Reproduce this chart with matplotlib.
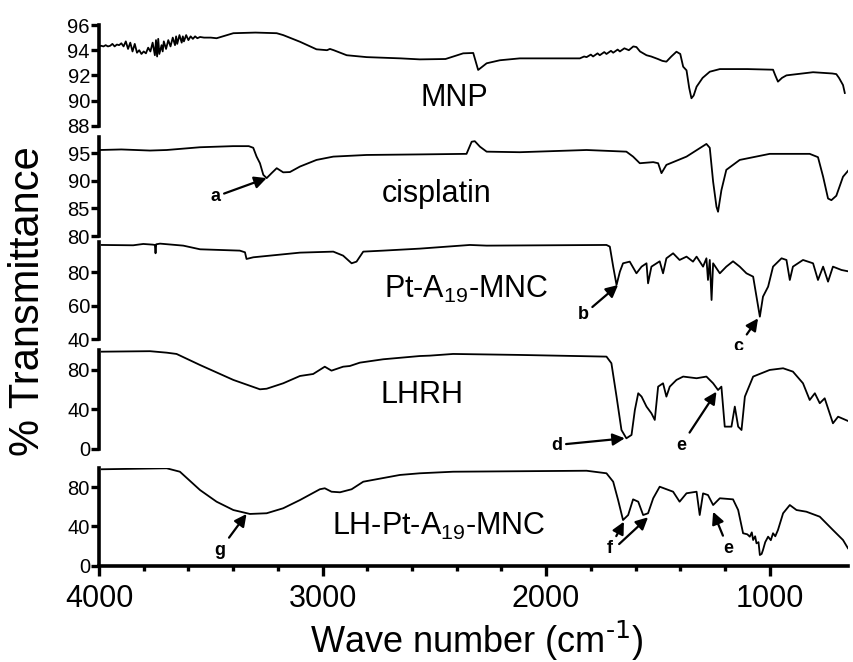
import matplotlib
matplotlib.use("Agg")
import matplotlib.pyplot as plt

plt.rcParams['font.family'] = ['Liberation Sans', 'DejaVu Sans']
plt.rcParams['mathtext.default'] = 'regular'

# ---- spectra (wave number in cm-1, % transmittance) ----
wn_mnp = [3996, 3990, 3980, 3970, 3960, 3950, 3940, 3930, 3920, 3910, 3900, 3890, 3880, 3870,
          3860, 3850, 3840, 3830, 3820, 3810, 3800, 3790, 3780, 3770, 3760, 3750, 3745, 3740,
          3735, 3730, 3720, 3715, 3710, 3700, 3690, 3680, 3670, 3660, 3655, 3650, 3640, 3630,
          3625, 3620, 3610, 3600, 3590, 3580, 3570, 3560, 3548, 3530, 3500, 3474, 3399, 3300,
          3205, 3176, 3101, 3027, 2980, 2967, 2950, 2892, 2803, 2650, 2565, 2450, 2371, 2326,
          2304, 2266, 2207, 2118, 1980, 1849, 1830, 1819, 1800, 1790, 1770, 1760, 1740, 1730,
          1710, 1700, 1680, 1670, 1650, 1630, 1610, 1596, 1580, 1551, 1530, 1500, 1480, 1462,
          1440, 1417, 1400, 1387, 1372, 1360, 1350, 1340, 1327, 1300, 1268, 1223, 1100, 985,
          975, 963, 945, 925, 806, 720, 702, 690, 672, 664]
t_mnp = [94.33, 94.35, 94.3, 94.4, 94.3, 94.35, 94.5, 94.3, 94.45, 94.4, 94.55, 94.3, 94.7, 94.1,
         94.6, 93.9, 94.5, 93.8, 94.0, 93.7, 93.9, 93.75, 94.2, 93.9, 94.6, 93.6, 94.8, 93.5,
         94.9, 93.7, 94.4, 93.9, 94.7, 94.1, 94.8, 94.3, 95.0, 94.4, 95.1, 94.5, 95.2, 94.6,
         95.1, 94.7, 95.2, 94.8, 95.1, 94.9, 95.1, 94.95, 95.05, 95.0, 95.0, 94.95, 95.35, 95.4,
         95.35, 95.2, 94.67, 94.07, 94.0, 94.1, 94.0, 93.6, 93.45, 93.35, 93.27, 93.3, 93.75, 93.78,
         92.43, 92.96, 93.2, 93.35, 93.35, 93.35, 93.5, 93.45, 93.65, 93.5, 93.75, 93.6, 93.85, 93.7,
         93.95, 93.8, 94.05, 93.9, 94.15, 94.0, 94.3, 94.25, 93.9, 93.6, 93.5, 93.3, 93.15, 93.09,
         93.5, 93.88, 93.7, 92.69, 92.4, 91.0, 90.18, 90.4, 91.1, 91.8, 92.29, 92.5, 92.5, 92.45,
         92.0, 91.5, 91.8, 92.0, 92.25, 92.15, 92.1, 91.8, 91.23, 90.6]

wn_cis = [3996, 3900, 3772, 3697, 3548, 3400, 3330, 3310, 3295, 3280, 3265, 3250, 3228, 3205,
          3176, 3146, 3101, 3027, 2952, 2803, 2565, 2356, 2333, 2319, 2296, 2266, 2118, 1819,
          1641, 1611, 1581, 1521, 1499, 1484, 1462, 1372, 1283, 1268, 1253, 1238, 1231, 1216,
          1194, 1134, 1000, 821, 784, 761, 739, 724, 702, 672, 627]
t_cis = [95.6, 95.7, 95.5, 95.6, 96.1, 96.3, 96.3, 96.0, 94.4, 93.2, 91.1, 90.5, 91.4, 92.3,
         91.55, 91.6, 92.6, 93.8, 94.4, 94.7, 94.8, 94.9, 97.1, 97.2, 96.2, 95.3, 95.2, 95.6,
         95.3, 94.4, 93.2, 93.4, 93.2, 91.4, 92.9, 94.4, 96.7, 96.0, 89.85, 85.3, 84.4, 88.3,
         92.0, 93.8, 94.9, 94.9, 94.3, 90.75, 86.8, 86.5, 87.3, 90.75, 92.9]

wn_pt = [3988, 3847, 3802, 3760, 3750, 3747, 3744, 3727, 3623, 3548, 3370, 3347, 3340, 3310,
         3101, 2952, 2908, 2870, 2848, 2818, 2729, 2565, 2341, 2266, 1730, 1715, 1700, 1685,
         1670, 1656, 1626, 1596, 1573, 1551, 1544, 1529, 1492, 1477, 1462, 1432, 1403, 1372,
         1343, 1327, 1298, 1283, 1276, 1268, 1260, 1253, 1223, 1194, 1164, 1134, 1104, 1074,
         1059, 1044, 1030, 1007, 985, 947, 925, 910, 896, 851, 806, 784, 761, 739,
         717, 679, 642]
t_pt = [96.4, 96.2, 97.0, 96.6, 96.4, 91.4, 96.8, 97.2, 96.0, 93.8, 93.0, 92.0, 88.0, 89.0,
        91.8, 92.4, 90.0, 85.4, 86.4, 92.4, 93.0, 94.2, 96.4, 96.0, 96.4, 95.4, 83.4, 72.4,
        80.4, 85.4, 86.4, 79.4, 83.4, 85.4, 73.4, 83.4, 86.6, 79.4, 88.4, 91.4, 87.4, 89.4,
        86.4, 89.4, 83.4, 88.4, 75.4, 87.4, 63.4, 85.4, 79.4, 83.4, 86.6, 83.4, 79.4, 77.4,
        65.4, 53.4, 65.4, 71.4, 83.4, 88.4, 87.4, 75.4, 83.4, 87.4, 85.4, 75.4, 83.4, 74.4,
        83.4, 81.4, 80.4]

wn_lhrh = [3988, 3772, 3697, 3653, 3548, 3399, 3280, 3250, 3176, 3101, 3042, 2990, 2960, 2908,
           2878, 2833, 2729, 2565, 2520, 2416, 2118, 1730, 1708, 1685, 1663, 1641, 1618, 1603,
           1588, 1573, 1551, 1529, 1514, 1499, 1477, 1462, 1447, 1417, 1387, 1327, 1283, 1253,
           1231, 1216, 1201, 1171, 1156, 1141, 1126, 1111, 1074, 1000, 940, 896, 851, 821,
           798, 776, 754, 717, 694, 642]
t_lhrh = [98.5, 99.0, 97.5, 96.2, 85.0, 69.9, 60.4, 61.0, 66.5, 73.9, 75.9, 83.3, 79.3, 83.3,
          84.0, 87.4, 90.8, 94.1, 94.5, 96.2, 95.2, 93.5, 86.8, 53.0, 19.2, 10.8, 14.2, 39.5,
          56.4, 53.0, 42.9, 36.1, 29.4, 63.1, 66.5, 53.0, 63.1, 69.9, 73.3, 71.6, 73.3, 66.5,
          59.7, 63.1, 22.6, 22.6, 42.9, 22.6, 19.2, 53.0, 73.3, 80.0, 81.7, 78.3, 66.5, 49.6,
          56.4, 46.3, 51.3, 26.0, 32.7, 27.6]

wn_lhpt = [3988, 3697, 3638, 3548, 3474, 3399, 3325, 3250, 3176, 3101, 3012, 2990, 2960, 2922,
           2870, 2818, 2654, 2565, 2416, 1819, 1730, 1700, 1678, 1656, 1633, 1611, 1588, 1566,
           1544, 1521, 1492, 1432, 1403, 1372, 1327, 1313, 1298, 1276, 1253, 1223, 1164, 1141,
           1119, 1100, 1089, 1080, 1074, 1065, 1059, 1050, 1044, 1036, 1030, 1020, 1007, 995,
           985, 975, 963, 940, 910, 880, 836, 776, 717, 672, 650]
t_lhpt = [98.4, 99.4, 95.9, 77.2, 65.3, 56.8, 52.8, 53.5, 58.6, 67.0, 78.0, 79.0, 75.5, 74.9,
          78.0, 85.7, 92.6, 94.3, 95.9, 96.9, 94.3, 85.7, 67.0, 46.6, 51.7, 67.7, 65.3, 51.7,
          53.5, 68.8, 80.6, 75.5, 65.3, 73.9, 75.5, 51.7, 73.8, 72.1, 61.9, 68.8, 67.7, 56.8,
          33.1, 32.0, 29.6, 34.0, 26.2, 30.0, 22.8, 24.0, 10.9, 12.0, 16.0, 24.0, 29.6, 26.0,
          33.1, 30.0, 36.4, 53.5, 61.9, 56.8, 55.1, 50.0, 36.4, 26.2, 17.8]

names = ['MNP', 'cisplatin', 'Pt-A$_{19}$-MNC', 'LHRH', 'LH-Pt-A$_{19}$-MNC']
ylims = [(88, 96), (80, 98), (40, 98), (0, 100), (0, 100)]
yticks = [[88, 90, 92, 94, 96], [80, 85, 90, 95], [40, 60, 80], [0, 40, 80], [0, 40, 80]]
# label anchor (wave number, transmittance) of each panel name
name_pos = [(2412, 89.6), (2488, 86.2), (2359, 64.6), (2553, 46.6), (2482, 31.3)]
# panel boxes in figure fractions: left, bottom, width, height
boxes = [(0.1159, 0.8101, 0.877, 0.1521),
         (0.1159, 0.6435, 0.877, 0.1499),
         (0.1159, 0.4879, 0.877, 0.1461),
         (0.1159, 0.3218, 0.877, 0.1492),
         (0.1159, 0.1455, 0.877, 0.1480)]
series = [(wn_mnp, t_mnp), (wn_cis, t_cis), (wn_pt, t_pt), (wn_lhrh, t_lhrh), (wn_lhpt, t_lhpt)]

fig = plt.figure(figsize=(8.54, 6.62), dpi=100)
axes = []
for i, (wn, t) in enumerate(series):
    ax = fig.add_axes(boxes[i])
    ax.plot(wn, t, color='k', lw=1.3)
    ax.set_xlim(4000, 650)
    ax.set_ylim(*ylims[i])
    ax.set_yticks(yticks[i])
    for s in ['top', 'right']:
        ax.spines[s].set_visible(False)
    ax.spines['left'].set_linewidth(2.6)
    ax.tick_params(axis='y', direction='out', length=5.5, width=2.4, labelsize=14.5, pad=1)
    ax.text(name_pos[i][0], name_pos[i][1], names[i], fontsize=22, ha='center', va='baseline')
    if i < 4:
        ax.spines['bottom'].set_visible(False)
        ax.set_xticks([])
    axes.append(ax)

axb = axes[-1]
axb.spines['bottom'].set_linewidth(2.6)
axb.set_xticks([4000, 3000, 2000, 1000])
axb.set_xticks([w for w in range(1200, 4000, 200) if w % 1000], minor=True)
axb.tick_params(axis='x', which='major', direction='out', length=7, width=2.4, labelsize=22, pad=6)
axb.tick_params(axis='x', which='minor', direction='out', length=3.5, width=2.4)

# peak markers
arrow = dict(arrowstyle='-|>', lw=1.6, color='k', mutation_scale=18, shrinkA=1, shrinkB=0)
lab = dict(fontsize=13, fontweight='bold', ha='center', va='center', annotation_clip=False)
axes[1].annotate('a', xy=(3250, 90.5), xytext=(3481, 87.1), arrowprops=arrow, **lab)
axes[2].annotate('b', xy=(1678, 72.4), xytext=(1835, 54.4), arrowprops=arrow, **lab)
axes[2].annotate('c', xy=(1052, 52.4), xytext=(1141, 35.4), arrowprops=arrow, **lab)
axes[3].annotate('d', xy=(1648, 10.8), xytext=(1954, 4.0), arrowprops=arrow, **lab)
axes[3].annotate('e', xy=(1238, 58.0), xytext=(1395, 4.0), arrowprops=arrow, **lab)
axes[4].annotate('g', xy=(3340, 52.8), xytext=(3459, 16.0), arrowprops=arrow, **lab)
axes[4].annotate('f', xy=(1652, 44.9), xytext=(1715, 17.8), arrowprops=arrow, **lab)
axes[4].annotate('', xy=(1544, 49.4), xytext=(1678, 21.1), arrowprops=arrow, annotation_clip=False)
axes[4].annotate('e', xy=(1253, 55.0), xytext=(1186, 17.8), arrowprops=arrow, **lab)

fig.text(28 / 854, 1 - 301 / 662, '% Transmittance', rotation=90, fontsize=30,
         ha='center', va='center')
fig.text(477 / 854, 1 - 653 / 662, r'Wave number (cm$^{\text{-1}}$)', fontsize=26,
         ha='center', va='baseline')

fig.savefig('out.png', dpi=100)
